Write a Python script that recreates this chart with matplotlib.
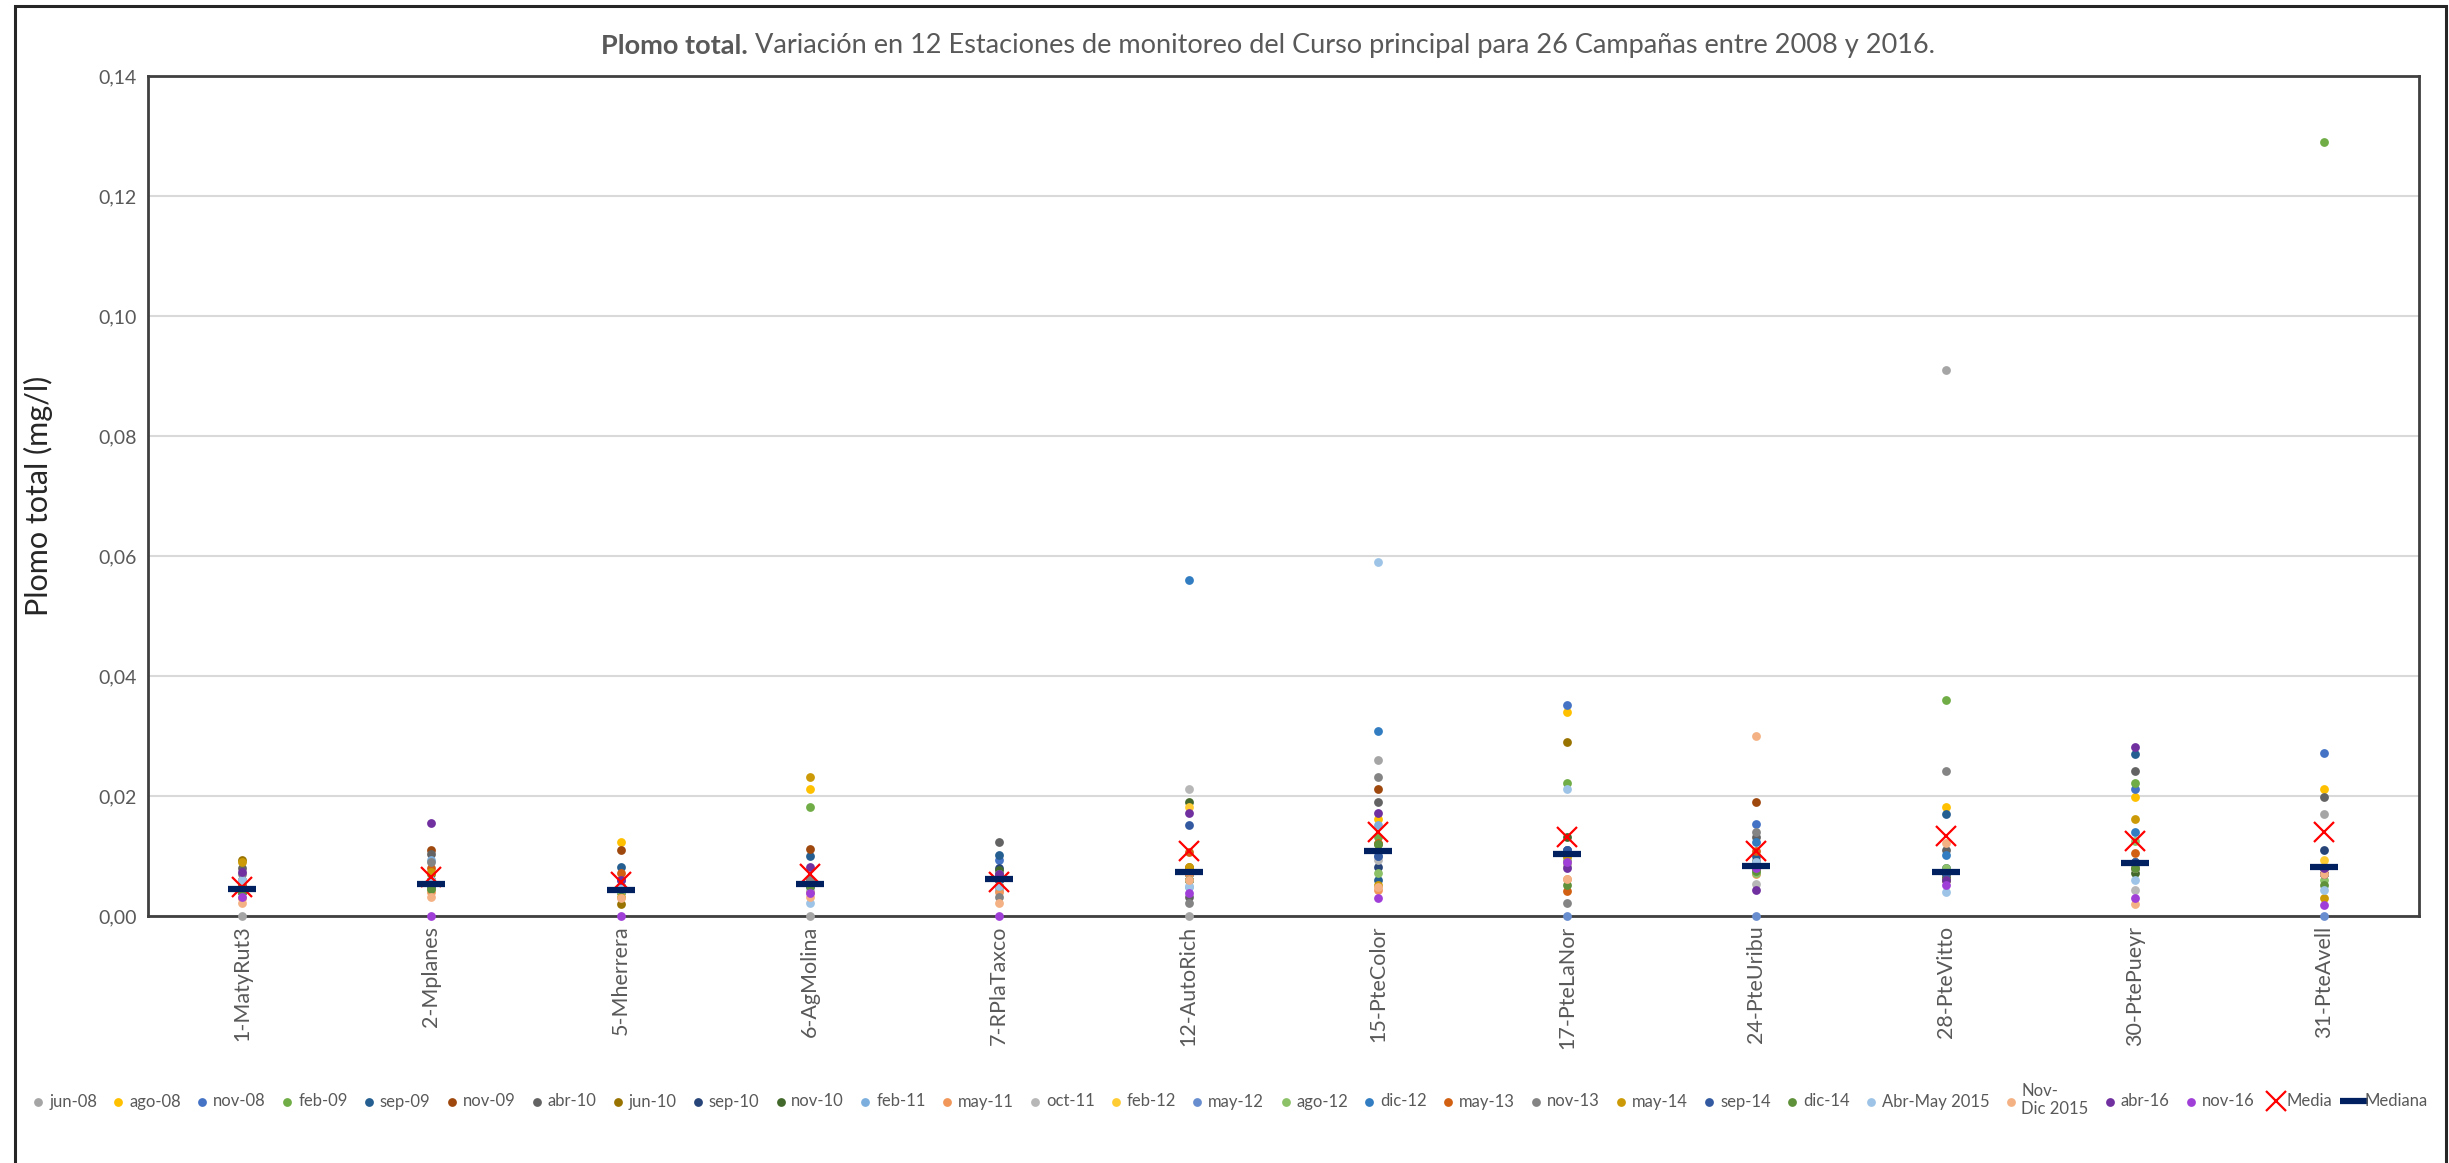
import numpy as np
import matplotlib
matplotlib.use("Agg")
import matplotlib.pyplot as plt
from matplotlib.ticker import FuncFormatter, MultipleLocator
from matplotlib.patches import Rectangle

plt.rcParams.update({
    "font.family": ["Lato", "DejaVu Sans"],
})

TEXT_COLOR = "#595959"
GRID_COLOR = "#D9D9D9"
FRAME_COLOR = "#404040"

estaciones = ["1-MatyRut3", "2-Mplanes", "5-Mherrera", "6-AgMolina", "7-RPlaTaxco",
              "12-AutoRich", "15-PteColor", "17-PteLaNor", "24-PteUribu",
              "28-PteVitto", "30-PtePueyr", "31-PteAvell"]

campanias = ["jun-08", "ago-08", "nov-08", "feb-09", "sep-09", "nov-09", "abr-10",
             "jun-10", "sep-10", "nov-10", "feb-11", "may-11", "oct-11", "feb-12",
             "may-12", "ago-12", "dic-12", "may-13", "nov-13", "may-14", "sep-14",
             "dic-14", "Abr-May 2015", "Nov-\nDic 2015", "abr-16", "nov-16"]

colores = ["#A5A5A5", "#FFC000", "#4472C4", "#70AD47", "#255E91", "#9E480E",
           "#636363", "#997300", "#264478", "#43682B", "#7CAFDD", "#F1975A",
           "#B7B7B7", "#FFCD33", "#698ED0", "#8CC168", "#327DC2", "#D26012",
           "#848484", "#CC9A06", "#335AA1", "#5F913A", "#9DC3E6", "#F4B183",
           "#7030A0", "#A03FD8"]

# Plomo total (mg/l) por estacion, una fila por estacion en el orden de campanias
plomo = [
    [0.000, 0.005, 0.004, 0.004, 0.005, 0.006, 0.008, 0.0093, 0.004, 0.004, 0.006, 0.003, 0.004,
     0.005, 0.004, 0.004, 0.005, 0.005, 0.007, 0.009, 0.004, 0.004, 0.006, 0.0022, 0.0073, 0.0032],
    [0.005, 0.006, 0.005, 0.0047, 0.006, 0.011, 0.0103, 0.007, 0.005, 0.005, 0.0093, 0.004, 0.005,
     0.006, 0.005, 0.0047, 0.006, 0.008, 0.009, 0.0073, 0.005, 0.0045, 0.006, 0.0032, 0.0155, 0.000],
    [0.004, 0.0123, 0.004, 0.004, 0.0082, 0.011, 0.005, 0.002, 0.004, 0.004, 0.005, 0.004, 0.004,
     0.005, 0.004, 0.004, 0.006, 0.0072, 0.005, 0.0032, 0.0045, 0.0045, 0.005, 0.003, 0.006, 0.000],
    [0.000, 0.0212, 0.005, 0.0182, 0.010, 0.0112, 0.005, 0.005, 0.006, 0.005, 0.004, 0.004, 0.0045,
     0.006, 0.005, 0.005, 0.006, 0.0053, 0.006, 0.0232, 0.005, 0.005, 0.0022, 0.0032, 0.0082, 0.0038],
    [0.005, 0.006, 0.0093, 0.006, 0.0102, 0.007, 0.0123, 0.005, 0.008, 0.0077, 0.0043, 0.004, 0.005,
     0.007, 0.006, 0.006, 0.007, 0.006, 0.0032, 0.005, 0.006, 0.0065, 0.005, 0.0022, 0.007, 0.000],
    [0.000, 0.008, 0.006, 0.007, 0.006, 0.008, 0.0032, 0.0082, 0.007, 0.019, 0.0048, 0.007, 0.0212,
     0.0182, 0.006, 0.006, 0.056, 0.0107, 0.0022, 0.0082, 0.0152, 0.006, 0.005, 0.006, 0.0172, 0.0038],
    [0.026, 0.0162, 0.011, 0.0132, 0.006, 0.0212, 0.019, 0.011, 0.0082, 0.012, 0.0152, 0.0043, 0.0093,
     0.011, 0.010, 0.0072, 0.0308, 0.0122, 0.0232, 0.0052, 0.010, 0.012, 0.059, 0.0048, 0.0172, 0.003],
    [0.0083, 0.034, 0.0352, 0.0222, 0.010, 0.009, 0.010, 0.029, 0.011, 0.0132, 0.010, 0.0062, 0.009,
     0.010, 0.000, 0.0093, 0.011, 0.0042, 0.0022, 0.010, 0.011, 0.0052, 0.0212, 0.0062, 0.008, 0.009],
    [0.0093, 0.009, 0.0153, 0.009, 0.010, 0.019, 0.0132, 0.008, 0.008, 0.008, 0.009, 0.007, 0.0053,
     0.009, 0.000, 0.0072, 0.0123, 0.0108, 0.014, 0.008, 0.009, 0.0075, 0.009, 0.030, 0.0043, 0.008],
    [0.091, 0.0182, 0.007, 0.036, 0.017, 0.007, 0.011, 0.006, 0.008, 0.0065, 0.007, 0.006, 0.007,
     0.007, 0.007, 0.008, 0.0102, 0.007, 0.0242, 0.007, 0.007, 0.006, 0.004, 0.0122, 0.006, 0.0052],
    [0.009, 0.0198, 0.0212, 0.0222, 0.027, 0.009, 0.0242, 0.009, 0.0088, 0.0072, 0.008, 0.008, 0.0043,
     0.009, 0.009, 0.0125, 0.014, 0.0105, 0.008, 0.0162, 0.009, 0.008, 0.006, 0.002, 0.0282, 0.003],
    [0.017, 0.0212, 0.0272, 0.129, 0.008, 0.008, 0.0198, 0.008, 0.011, 0.007, 0.008, 0.0072, 0.008,
     0.0093, 0.000, 0.006, 0.008, 0.007, 0.008, 0.003, 0.007, 0.0052, 0.0043, 0.007, 0.008, 0.0018],
]

media = [0.0048, 0.0065, 0.0056, 0.0070, 0.0057, 0.0108,
         0.0140, 0.0132, 0.0108, 0.0133, 0.0125, 0.0140]
mediana = [0.0045, 0.0053, 0.0044, 0.0053, 0.0062, 0.0073,
           0.0108, 0.0103, 0.0083, 0.0073, 0.0088, 0.0082]

W, H = 2449, 1163
fig = plt.figure(figsize=(W / 100, H / 100), dpi=100)
ax = fig.add_axes([147.5 / W, 1 - 916 / H, (2419 - 147.5) / W, 840 / H])

vals = np.array(plomo)
x = np.arange(len(estaciones)) + 0.5

for j, (camp, col) in enumerate(zip(campanias, colores)):
    ax.scatter(x, vals[:, j], s=40, color=col, linewidths=0, label=camp,
               zorder=3 + j * 0.01, clip_on=False)

ax.plot(x, media, ls="none", marker="x", ms=15, mew=1.6, color="#FF0000",
        label="Media", zorder=4, clip_on=False)
ax.plot(x, mediana, ls="none", marker="_", ms=20, mew=4.5, color="#002060",
        label="Mediana", zorder=5, clip_on=False)

ax.set_xlim(0, len(estaciones))
ax.set_ylim(0, 0.14)
ax.yaxis.set_major_locator(MultipleLocator(0.02))
ax.yaxis.set_major_formatter(FuncFormatter(lambda v, p: f"{v:.2f}".replace(".", ",")))
ax.set_xticks(x)
ax.set_xticklabels(estaciones, rotation=90, va="top", ha="center")
ax.tick_params(axis="both", length=0, colors=TEXT_COLOR)
ax.tick_params(axis="y", labelsize=14, pad=8)
ax.tick_params(axis="x", labelsize=15.5, pad=7)
ax.grid(axis="y", color=GRID_COLOR, lw=1.5)
ax.set_axisbelow(True)
for sp in ax.spines.values():
    sp.set_color(FRAME_COLOR)
    sp.set_linewidth(2)

ax.set_ylabel("Plomo total (mg/l)", fontsize=22, color="#262626")
ax.yaxis.set_label_coords((53 - 147.5) / (2419 - 147.5), 0.5)

# titulo con la primera parte en negrita
t1 = fig.text(601 / W, 1 - 58 / H, "Plomo total.", fontsize=19.5, fontweight="bold",
              color=TEXT_COLOR, ha="left", va="bottom")
ax.annotate(" Variación en 12 Estaciones de monitoreo del Curso principal para 26 "
            "Campañas entre 2008 y 2016.", xy=(1, 0), xycoords=t1,
            fontsize=19.5, color=TEXT_COLOR, ha="left", va="bottom")

handles, labels = ax.get_legend_handles_labels()
leg = fig.legend(handles, labels, loc="center", bbox_to_anchor=(0.5025, 1 - 1100 / H),
                 ncol=len(labels), frameon=False, fontsize=12, labelcolor=TEXT_COLOR,
                 handlelength=0.6, handletextpad=0.35, columnspacing=0.98,
                 borderpad=0, borderaxespad=0)

# marco exterior de la figura
fig.patches.append(Rectangle((15 / W, -0.01), (2446 - 15) / W, 1.01 + (H - 6) / H - 1,
                             transform=fig.transFigure, fill=False,
                             edgecolor="#262626", linewidth=2.2, zorder=10))

fig.savefig("out.png", dpi=100)
plt.close(fig)
